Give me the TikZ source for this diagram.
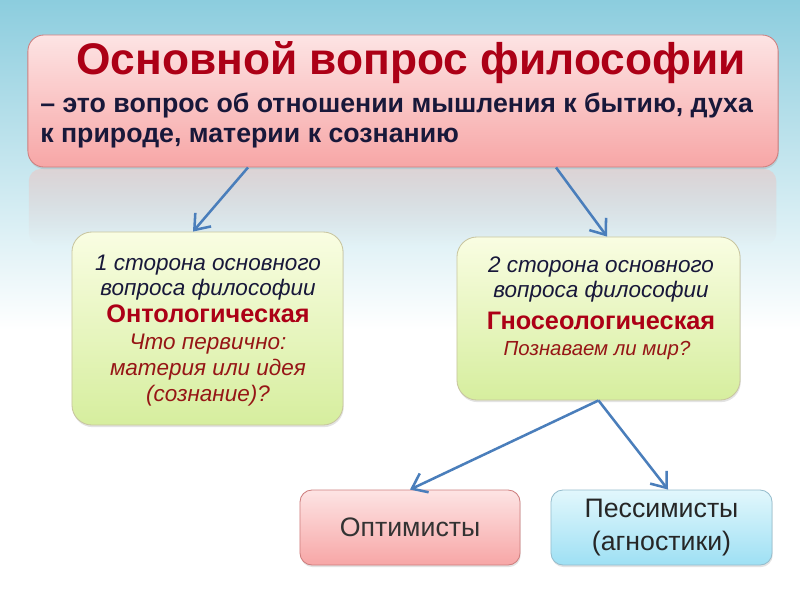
\documentclass[tikz,border=0pt]{standalone}
\usepackage{fontspec}
\setmainfont{Liberation Sans}
\usetikzlibrary{arrows.meta, shadows, fadings}

\definecolor{fondhaut}{RGB}{140,205,222}
\definecolor{roseclair}{RGB}{253,228,228}
\definecolor{rosefonce}{RGB}{247,166,166}
\definecolor{vertclair}{RGB}{249,253,226}
\definecolor{vertfonce}{RGB}{214,238,158}
\definecolor{bleuclair}{RGB}{226,247,252}
\definecolor{bleufonce}{RGB}{158,224,244}
\definecolor{rougetitre}{RGB}{172,0,22}
\definecolor{marine}{RGB}{24,24,58}
\definecolor{rougeit}{RGB}{150,22,22}
\definecolor{fleche}{RGB}{74,126,187}

\begin{document}
\begin{tikzpicture}[x=0.025cm, y=-0.025cm,
    boite/.style={rectangle, line width=0.6pt, drop shadow={opacity=0.22, shadow xshift=0.5pt, shadow yshift=-1.5pt}},
    rose/.style={boite, draw=red!45!gray!70, top color=roseclair, bottom color=rosefonce},
    vert/.style={boite, draw=olive!40!gray!50, top color=vertclair, bottom color=vertfonce},
    bleu/.style={boite, draw=cyan!40!gray!70, top color=bleuclair, bottom color=bleufonce},
    ital/.style={anchor=base, font=\fontsize{16}{18}\selectfont\itshape, text=marine},
    gras/.style={anchor=base, font=\fontsize{18}{20}\selectfont\bfseries, text=rougetitre},
    italrouge/.style={anchor=base, font=\fontsize{16}{18}\selectfont\itshape, text=rougeit},
    trait/.style={-{Straight Barb[length=3.4mm, width=5.2mm]}, line width=1.8pt, fleche}]
    \useasboundingbox (0,0) rectangle (800,600);
    % fond
    \shade[top color=fondhaut, bottom color=white] (0,0) rectangle (800,330);
    \fill[white] (0,330) rectangle (800,600);
    \fill[red!25!gray!30, fill opacity=0.8, path fading=south, rounded corners=3mm] (29,169) rectangle (777,245);

    % boites
    \node[rose, rounded corners=4mm, minimum width=18.75cm, minimum height=3.3cm](top) at (403,101) {};
    \node[vert, rounded corners=5mm, minimum width=6.775cm, minimum height=4.825cm](cote1) at (207.5,328.5) {};
    \node[vert, rounded corners=5mm, minimum width=7.075cm, minimum height=4.075cm](cote2) at (598.5,318.5) {};
    \node[rose, rounded corners=3mm, minimum width=5.5cm, minimum height=1.875cm](opt) at (410,527.5) {};
    \node[bleu, rounded corners=3mm, minimum width=5.525cm, minimum height=1.875cm](pess) at (661.5,527.5) {};

    % textes
    \node[anchor=base, font=\fontsize{31.5}{36}\selectfont\bfseries, text=rougetitre](titre) at (411,74) {Основной вопрос философии};
    \node[anchor=base west, inner sep=0pt, font=\fontsize{19}{22}\selectfont\bfseries, text=marine](def1) at (40,112) {– это вопрос об отношении мышления к бытию, духа};
    \node[anchor=base west, inner sep=0pt, font=\fontsize{19}{22}\selectfont\bfseries, text=marine](def2) at (40,142) {к природе, материи к сознанию};
    \foreach \n/\y/\s/\t in {a/270/ital/{1 сторона основного}, b/295/ital/{вопроса философии}, c/322/gras/{Онтологическая},
        d/349/italrouge/{Что первично:}, e/375/italrouge/{материя или идея}, f/401/italrouge/{(сознание)?}}
        \node[\s](s1\n) at (208,\y) {\t};
    \foreach \n/\y/\s/\t in {a/272/ital/{2 сторона основного}, b/297/ital/{вопроса философии}, c/329/gras/{Гносеологическая}}
        \node[\s](s2\n) at (601,\y) {\t};
    \node[italrouge, font=\fontsize{14.5}{17}\selectfont\itshape](s2d) at (597,355) {Познаваем ли мир?};
    \node[font=\fontsize{19}{23}\selectfont, text=black!80](optx) at (opt) {Оптимисты};
    \node[font=\fontsize{19}{23}\selectfont, text=black!85, align=center](pessx) at (pess) {Пессимисты\\(агностики)};

    % fleches
    \draw[trait] (top.south -| 248,0) -- (cote1.north -| 193,0);
    \draw[trait] (top.south -| 556,0) -- (cote2.north -| 607,0);
    \draw[trait] (cote2.south) -- (opt.north);
    \draw[trait] (cote2.south) -- (pess.north -| 668,0);
\end{tikzpicture}
\end{document}
